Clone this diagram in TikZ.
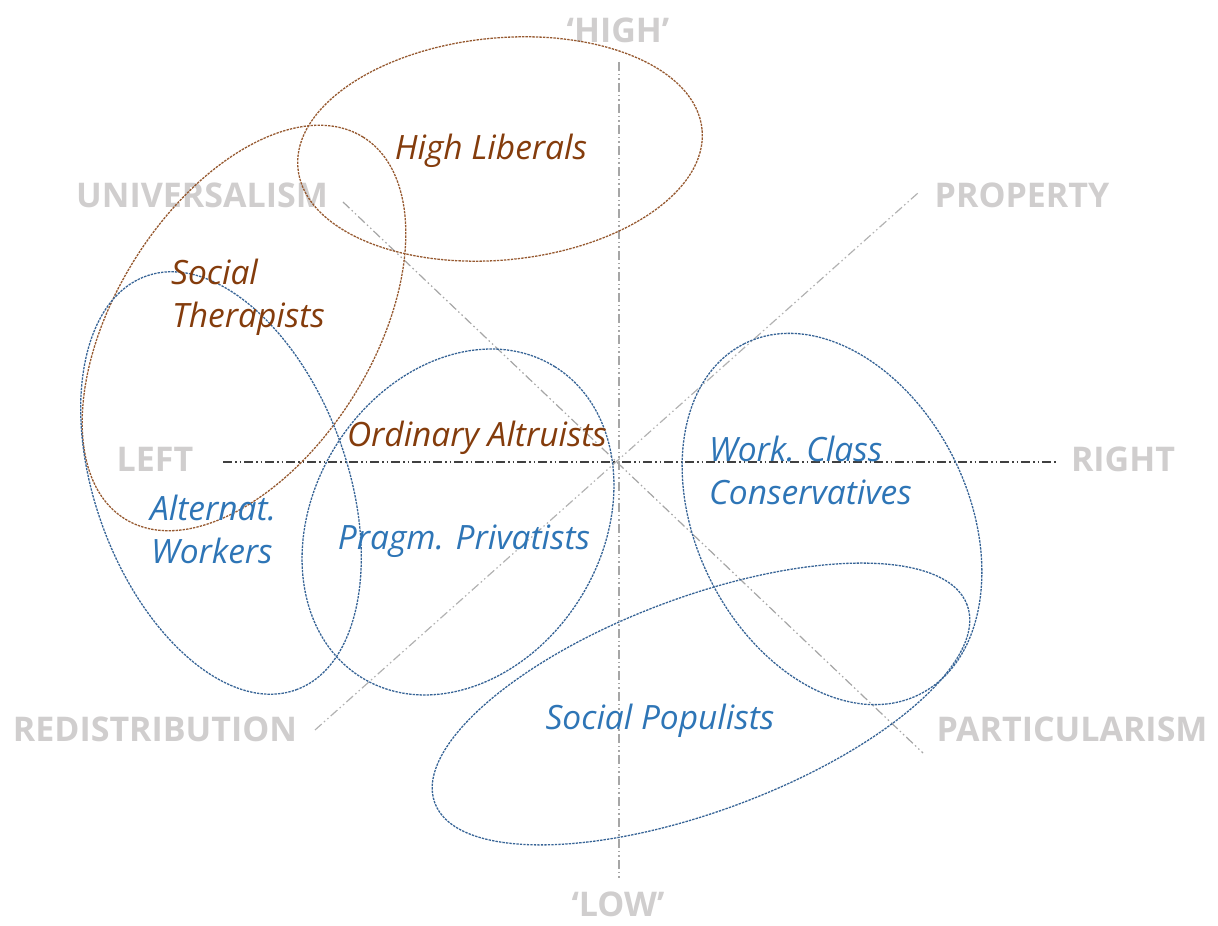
\documentclass[tikz,border=0pt]{standalone}
\usepackage{fontspec}
\setmainfont{Open Sans}
\begin{document}
\begin{tikzpicture}[x=1pt,y=1pt,
  axlabel/.style={text=lgray, font=\fontsize{34}{40}\selectfont\bfseries, inner sep=0pt, anchor=base},
  grplabel/.style={font=\fontsize{33.5}{40}\selectfont\itshape, inner sep=0pt},
  brownlab/.style={grplabel, text=brn},
  bluelab/.style={grplabel, text=blu},
  axisline/.style={line width=1.2pt, dash pattern=on 9pt off 3pt on 1.5pt off 3pt on 1.5pt off 3pt},
  brownell/.style={draw=brn!85, line width=1.3pt, dash pattern=on 2.4pt off 1.1pt},
  blueell/.style={draw=bluel, line width=1.3pt, dash pattern=on 2.4pt off 1.1pt}
]
\definecolor{brn}{RGB}{132,60,12}
\definecolor{blu}{RGB}{46,117,182}
\definecolor{bluel}{RGB}{55,100,150}
\definecolor{lgray}{RGB}{208,206,206}
\useasboundingbox (0,0) rectangle (1218,926);
% axis end points
\coordinate (hl) at (223,464);
\coordinate (hr) at (1057,464);
\coordinate (vt) at (619,864);
\coordinate (vb) at (619,48);
\coordinate (ua) at (343,724);
\coordinate (pa) at (923,173);
\coordinate (ra) at (315,196);
\coordinate (pr) at (918,733);
\draw[axisline, draw=black!75] (hl) -- (hr);
\draw[axisline, draw=gray!70] (vt) -- (vb);
\draw[axisline, draw=gray!70] (ua) -- (pa);
\draw[axisline, draw=gray!60] (ra) -- (pr);
% axis labels
\node[axlabel] (high) at (618,883) {‘HIGH’};
\node[axlabel] (low) at (618,9) {‘LOW’};
\node[axlabel] (univ) at (202,718) {UNIVERSALISM};
\node[axlabel] (prop) at (1022,718) {PROPERTY};
\node[axlabel] (left) at (155,454) {LEFT};
\node[axlabel] (right) at (1123,454) {RIGHT};
\node[axlabel] (redis) at (155,184) {REDISTRIBUTION};
\node[axlabel] (partic) at (1072,184) {PARTICULARISM};
% ellipses
\draw[brownell, rotate around={5.5:(500,777)}] (500,777) ellipse [x radius=203, y radius=111];
\draw[brownell, rotate around={58:(244,598)}] (244,598) ellipse [x radius=225, y radius=129];
\draw[blueell, rotate around={-70:(221,443)}] (221,443) ellipse [x radius=220, y radius=126];
\draw[blueell, rotate around={58:(458,404)}] (458,404) ellipse [x radius=183, y radius=144];
\draw[blueell, rotate around={116.5:(832,407)}] (832,407) ellipse [x radius=196, y radius=136];
\draw[blueell, rotate around={20.4:(701,222)}] (701,222) ellipse [x radius=284, y radius=107];
% group labels
\node[brownlab, anchor=base] (hlib) at (491,766) {High Liberals};
\node[brownlab, anchor=base west] (soct1) at (171,641) {Social};
\node[brownlab, anchor=base west] (soct2) at (172,598) {Therapists};
\node[brownlab, anchor=base] (ordalt) at (477,479) {Ordinary Altruists};
\node[bluelab, anchor=base west] (altw1) at (150,405) {Alternat.};
\node[bluelab, anchor=base west] (altw2) at (151,362) {Workers};
\node[bluelab, anchor=base] (prag) at (464,376) {Pragm. Privatists};
\node[bluelab, anchor=base west] (wcc1) at (709,464) {Work. Class};
\node[bluelab, anchor=base west] (wcc2) at (709,421) {Conservatives};
\node[bluelab, anchor=base] (socp) at (660,196) {Social Populists};
\end{tikzpicture}
\end{document}
